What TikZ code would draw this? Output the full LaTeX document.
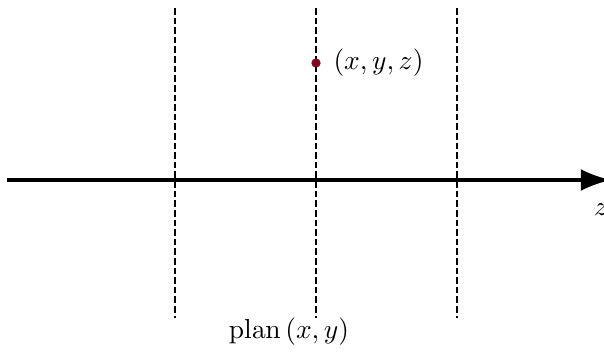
\documentclass[tikz,border=0pt]{standalone}
\usetikzlibrary{arrows.meta}
\definecolor{dotred}{RGB}{130,10,30}
\begin{document}
\begin{tikzpicture}[x=0.364pt,y=-0.364pt,
  axisline/.style={line width=1.2pt,-{Latex[length=11pt,width=8pt]}},
  guide/.style={line width=0.85pt,dash pattern=on 2.4pt off 1.1pt},
  lbl/.style={inner sep=0pt}]
\useasboundingbox (0,0) rectangle (604,352);
\coordinate (a0) at (7,180);
\coordinate (a1) at (611,180);
\draw[axisline] (a0) -- (a1);
\foreach \i/\x in {1/175,2/316,3/457}{
  \coordinate (t\i) at (\x,8);
  \coordinate (b\i) at (\x,318);
  \draw[guide] (t\i) -- (b\i);
}
\fill[dotred] (316,63) circle (1.7pt) coordinate (p);
\node[lbl,anchor=west] (pl) at (333,63) {$(x,y,z)$};
\node[lbl] (zl) at (601,210) {$z$};
\node[lbl] (plan) at (289,332) {$\mathrm{plan}\,(x,y)$};
\end{tikzpicture}
\end{document}
